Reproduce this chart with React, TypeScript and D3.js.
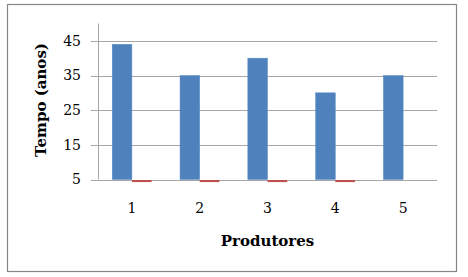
import React from "react";
import * as d3 from "d3";

const categories = ["1", "2", "3", "4", "5"];
const seriesA = [44, 35, 40, 30, 35];
const seriesB = [4.4, 4.4, 4.4, 4.4, 5];
const yTicks = [5, 15, 25, 35, 45];

const W = 468;
const H = 277;
const left = 98;
const right = 437;
const top = 23.5;
const bottom = 179.5;
const FONT = "'DejaVu Serif', serif";

export default function App() {
  const x = d3.scaleBand<string>().domain(categories).range([left, right]).paddingInner(0).paddingOuter(0);
  const y = d3.scaleLinear().domain([5, 50]).range([bottom, top]);
  const bw = x.bandwidth();
  const barW = bw * 0.29;

  return (
    <div style={{ position: "absolute", left: 0, top: 0 }}>
      <svg width={W} height={H} style={{ display: "block", background: "#fff" }}>
        <rect x={7.5} y={4.5} width={449} height={267} fill="#fff" stroke="#868686" strokeWidth={1.2} />
        {yTicks.map((t) => (
          <g key={t}>
            <line x1={left - 7} x2={right} y1={Math.round(y(t)) + 0.5} y2={Math.round(y(t)) + 0.5} stroke="#a6a6a6" strokeWidth={1} />
            <text x={81} y={y(t)} dy="0.35em" textAnchor="end" fontFamily={FONT} fontSize={14} fill="#000">
              {t}
            </text>
          </g>
        ))}
        <line x1={left + 0.5} x2={left + 0.5} y1={top} y2={bottom} stroke="#a6a6a6" strokeWidth={1} />
        {categories.map((c, i) => {
          const cx = (x(c) as number) + bw / 2;
          const a = seriesA[i];
          const b = seriesB[i];
          return (
            <g key={c}>
              <rect x={cx - barW} y={y(a)} width={barW} height={y(5) - y(a)} fill="#4F81BD" stroke="#5a8bc6" strokeWidth={0.5} />
              {b < 5 && (
                <rect x={cx} y={y(5) + 0.5} width={barW} height={y(b) - y(5)} fill="#C0504D" />
              )}
              <text x={cx} y={213} textAnchor="middle" fontFamily={FONT} fontSize={14} fill="#000">
                {c}
              </text>
            </g>
          );
        })}
        <text x={(left + right) / 2} y={246} textAnchor="middle" fontFamily={FONT} fontSize={15} fontWeight="bold" fill="#000">
          Produtores
        </text>
        <text
          transform={`translate(46,100) rotate(-90)`}
          textAnchor="middle"
          fontFamily={FONT}
          fontSize={15}
          fontWeight="bold"
          fill="#000"
        >
          Tempo (anos)
        </text>
      </svg>
    </div>
  );
}
